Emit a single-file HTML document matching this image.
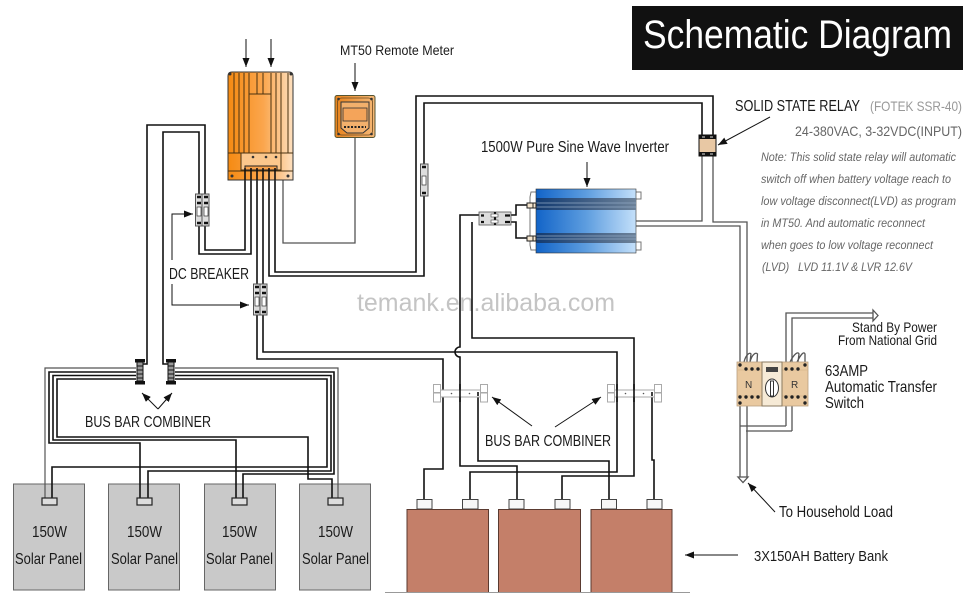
<!DOCTYPE html>
<html><head><meta charset="utf-8"><title>Schematic Diagram</title>
<style>
html,body{margin:0;padding:0;background:#fff}
svg{display:block}
text{font-family:"Liberation Sans Narrow","Liberation Sans",sans-serif;fill:#1a1a1a}
.w{fill:none;stroke:#111;stroke-width:1.6}
.g{fill:none;stroke:#555;stroke-width:1.3}
.t{font-size:16px}
.n{font-size:12px;font-style:italic;fill:#666}
</style></head><body>
<svg width="970" height="600" viewBox="0 0 970 600" xmlns="http://www.w3.org/2000/svg">
<defs>
<linearGradient id="org" x1="0" x2="1"><stop offset="0" stop-color="#f58a12"/><stop offset=".55" stop-color="#fba64e"/><stop offset="1" stop-color="#fde0bf"/></linearGradient>
<linearGradient id="met" x1="0" x2="1"><stop offset="0" stop-color="#e8831c"/><stop offset="1" stop-color="#f5b877"/></linearGradient>
<linearGradient id="blu" x1="0" x2="1"><stop offset="0" stop-color="#1264c8"/><stop offset=".5" stop-color="#5d9ddf"/><stop offset="1" stop-color="#c4e0fa"/></linearGradient>
<linearGradient id="blk" x1="0" x2="1"><stop offset="0" stop-color="#123a70"/><stop offset="1" stop-color="#6d8299"/></linearGradient>
<marker id="ah" markerWidth="10" markerHeight="7" refX="9" refY="3.500" orient="auto" markerUnits="userSpaceOnUse"><path d="M0 0L9 3.500L0 7z" fill="#111"/></marker>
</defs>

<!-- title -->
<rect x="632" y="6" width="331" height="64" fill="#111"/>
<text x="643" y="48" font-size="40" style="fill:#fff" textLength="309" lengthAdjust="spacingAndGlyphs">Schematic Diagram</text>

<!-- watermark -->
<text x="357" y="311" font-size="25" style="font-family:'Liberation Sans',sans-serif;fill:#c4c4c4" textLength="258" lengthAdjust="spacingAndGlyphs">temank.en.alibaba.com</text>

<!-- solar panels -->
<g fill="#c9c9c9" stroke="#666" stroke-width="1">
<rect x="13.5" y="484" width="71" height="106"/>
<rect x="108.5" y="484" width="71" height="106"/>
<rect x="204.5" y="484" width="71" height="106"/>
<rect x="299.5" y="484" width="71" height="106"/>
</g>

<!-- solar wiring -->
<g class="w">
<path class="g" style="stroke-width:1.2" d="M136 368H45V498"/>
<path d="M136 372H49V443H140V498"/>
<path d="M136 375.500H53V440H236V498"/>
<path d="M136 379H57V437H308V479H332V498"/>
<path class="g" style="stroke-width:1.2" d="M175 368H338V498"/>
<path d="M175 372H334V474H243V498"/>
<path d="M175 375.500H331V471H148V498"/>
<path d="M175 379H327V467H52V498"/>
</g>
<g fill="#ddd" stroke="#222" stroke-width="1.2">
<rect x="42" y="498" width="15" height="7"/><rect x="137" y="498" width="15" height="7"/>
<rect x="232" y="498" width="15" height="7"/><rect x="328" y="498" width="15" height="7"/>
</g>

<!-- upper wires -->
<path class="w" d="M245 178V250H205V125H147V364H140"/>
<path class="w" d="M251 178V254H199V132H163V364H170"/>
<path class="w" d="M257 178V359H443V469H424V500"/>
<path class="w" d="M263 178V352H617V472H470V500"/>
<path class="w" d="M275 178V272H416V96H713V135"/>
<path class="w" d="M269 178V276H424V103H702V135"/>
<path class="g" d="M283 178V243H355V135"/>
<path class="w" d="M472 222V338H634V476H562V500"/>
<path class="w" d="M479 215H460V347A5 5 0 0 0 460 357V466H517V500"/>
<path class="w" d="M478 395V461H609V500"/>
<path class="w" d="M652 395V460H654V500"/>
<path class="w" d="M479 215H511M479 222H511"/>
<path class="w" d="M511 215H516V205H527M511 222H516V238H527"/>

<!-- AC gray wiring -->
<g class="g">
<path d="M702 156V221H636"/>
<path d="M713 156V222H747V477"/>
<path d="M636 226H740V477"/>
<path d="M786 426V313H873"/>
<path d="M792 431V318H873"/>
<path d="M740 426H786"/>
<path d="M746 431H792"/>
<path d="M738 477H748L743 482.500Z" fill="#fff"/>
<path d="M873 310L878 315.500L873 321Z" fill="#fff"/>
<path d="M744 362C746 354 750 352 751 354L750 362M750 362C752 354 756 352 757.500 354L757 362"/>
<path d="M790 362C794 354 798 351 799 354L798 362M797 362C801 354 804 351 805 354L805 362"/>
</g>

<!-- batteries -->
<g fill="#f7f7f7" stroke="#444" stroke-width="1">
<rect x="417" y="499.500" width="15" height="9.500"/><rect x="462.500" y="499.500" width="15.500" height="9.500"/>
<rect x="509" y="499.500" width="15" height="9.500"/><rect x="555" y="499.500" width="15" height="9.500"/>
<rect x="601.500" y="499.500" width="15" height="9.500"/><rect x="647" y="499.500" width="15" height="9.500"/>
</g>
<g fill="#c47f69" stroke="#5a3a30" stroke-width="1">
<rect x="407" y="509.500" width="81.500" height="83"/>
<rect x="498.500" y="509.500" width="82" height="83"/>
<rect x="591" y="509.500" width="81" height="83"/>
</g>
<path d="M385 592.500H690" stroke="#999" stroke-width="1"/>

<!-- bus bars (faded) -->
<g fill="#fff" stroke="#aaa" stroke-width="1">
<rect x="439" y="390" width="44" height="7"/>
<rect x="433.500" y="384.500" width="7" height="8"/><rect x="433.500" y="393" width="7" height="9"/>
<rect x="480.500" y="384.500" width="7" height="8"/><rect x="480.500" y="393" width="7" height="9"/>
<rect x="613" y="390" width="44" height="7"/>
<rect x="607.500" y="384.500" width="7" height="8"/><rect x="607.500" y="393" width="7" height="9"/>
<rect x="654.500" y="384.500" width="7" height="8"/><rect x="654.500" y="393" width="7" height="9"/>
</g>
<g fill="#555"><circle cx="451.500" cy="393.500" r=".8"/><circle cx="469.500" cy="393.500" r=".8"/><circle cx="625.500" cy="393.500" r=".8"/><circle cx="643.500" cy="393.500" r=".8"/></g>
<path class="w" d="M460 384V402M617 384V402M634 384V402"/>
<path class="w" d="M478 392V396M652 392V396"/>

<!-- solar bus screws -->
<g>
<rect x="135" y="359" width="10" height="3.500" fill="#111"/><rect x="135" y="381" width="10" height="3.500" fill="#111"/>
<rect x="137" y="362" width="6" height="19" fill="#999" stroke="#111"/>
<path d="M137 366H143M137 370H143M137 374H143M137 378H143" stroke="#111"/>
<rect x="166" y="359" width="10" height="3.500" fill="#111"/><rect x="166" y="381" width="10" height="3.500" fill="#111"/>
<rect x="168" y="362" width="6" height="19" fill="#999" stroke="#111"/>
<path d="M168 366H174M168 370H174M168 374H174M168 378H174" stroke="#111"/>
</g>

<!-- MPPT controller -->
<path d="M228 76Q228 72 232 72H289Q293 72 293 76V180H228Z" fill="url(#org)" stroke="#333" stroke-width="1"/>
<g stroke="#4a3210" stroke-width="1" fill="none">
<path d="M234 73V153M239 73V153M244 73V153M249 73V153M257 73V94M263 73V94M271 73V153M276 73V153M281 73V153M288 73V153"/>
<path d="M249 94H271"/>
<path d="M228 153H241M281 153H293"/>
<path d="M228 171H293"/>
</g>
<rect x="241" y="153" width="40" height="17" fill="#fbc78c" stroke="#4a3210" stroke-width="1"/>
<rect x="245" y="166" width="32" height="4" fill="#f9a24a" stroke="#222"/>
<g fill="#333"><circle cx="253" cy="157" r="1.300"/><circle cx="266" cy="157" r="1.300"/><circle cx="276" cy="157" r="1.300"/><circle cx="232" cy="176" r="1.500"/><circle cx="288" cy="176" r="1.500"/><circle cx="230" cy="74" r="1.500"/><circle cx="291" cy="74" r="1.500"/></g>
<path class="w" d="M245 168V180M251 168V180M257 168V180M263 168V180M269 168V180M275 168V180"/>

<!-- remote meter -->
<rect x="335" y="95.500" width="40" height="42" rx="2" fill="url(#met)" stroke="#553" stroke-width="1"/>
<rect x="337.500" y="98" width="35" height="37" rx="4" fill="none" stroke="#6a4a20" stroke-width=".8"/>
<path d="M341 102H369V128L363 133H347L341 128Z" fill="#f2b06c" stroke="#333" stroke-width="1"/>
<rect x="343" y="108" width="24" height="13" fill="#f4a45a" stroke="#333" stroke-width=".8"/>
<path d="M344 127H366" stroke="#222" stroke-width="2" stroke-dasharray="2 1.500"/>
<g fill="#333"><circle cx="338.500" cy="99" r="1.300"/><circle cx="371.500" cy="99" r="1.300"/><circle cx="338.500" cy="134" r="1.300"/><circle cx="371.500" cy="134" r="1.300"/></g>

<!-- inverter -->
<g fill="#fff" stroke="#777" stroke-width="1">
<path d="M536 192H531L530 197V245L531 250H536"/>
<path d="M636 192H641V199H636M636 242H641V250H636"/>
</g>
<rect x="536" y="189" width="100" height="64" fill="url(#blu)" stroke="#333" stroke-width=".6"/>
<rect x="536" y="198" width="100" height="12" fill="url(#blk)"/>
<rect x="536" y="233" width="100" height="10" fill="url(#blk)"/>
<path d="M536 203H636M536 207H636M536 236H636M536 239H636" stroke="#8fa6c2" stroke-width=".7"/>
<g fill="#f6e6cf" stroke="#222" stroke-width="1"><rect x="527" y="203" width="6" height="5"/><rect x="527" y="236" width="6" height="5"/><rect x="533" y="203" width="3" height="5"/><rect x="533" y="236" width="3" height="5"/></g>
<path d="M636 221H641M636 226H641" stroke="#555"/>

<!-- inverter breaker -->
<rect x="479" y="212" width="32" height="13" fill="#ddd" stroke="#555" stroke-width=".8"/>
<path d="M481 215.500H484M481 222H484M505 215.500H510M505 222H510M495 212V225" stroke="#111" stroke-width="2.200"/>
<rect x="491" y="214" width="7" height="3" fill="#fff" stroke="#444" stroke-width=".6"/><rect x="491" y="220" width="7" height="3" fill="#fff" stroke="#444" stroke-width=".6"/>

<!-- small breakers -->
<g>
<rect x="195.500" y="194" width="13.500" height="32" fill="#ddd" stroke="#555"/>
<path d="M202 194V226" stroke="#555"/>
<path d="M197 197H201M204 197H208M197 203H201M204 203H208M197 223H201M204 223H208" stroke="#111" stroke-width="2.500"/>
<rect x="197" y="207" width="4" height="9" fill="#fff" stroke="#333" stroke-width=".7"/><rect x="204" y="207" width="4" height="9" fill="#fff" stroke="#333" stroke-width=".7"/>

<rect x="253.500" y="284" width="13.500" height="31" fill="#ddd" stroke="#555"/>
<path d="M260 284V315" stroke="#555"/>
<path d="M255 287H259M262 287H266M255 293H259M262 293H266M255 312H259M262 312H266" stroke="#111" stroke-width="2.500"/>
<rect x="255" y="297" width="4" height="9" fill="#fff" stroke="#333" stroke-width=".7"/><rect x="262" y="297" width="4" height="9" fill="#fff" stroke="#333" stroke-width=".7"/>

<rect x="420.500" y="164" width="7.500" height="32" fill="#ddd" stroke="#555"/>
<path d="M422 167H426M422 193H426" stroke="#111" stroke-width="2.500"/>
<rect x="422" y="176" width="4" height="9" fill="#fff" stroke="#333" stroke-width=".7"/>
</g>

<!-- solid state relay -->
<rect x="699" y="135" width="17" height="21" fill="#e8c8a4" stroke="#111"/>
<rect x="699" y="135" width="17" height="4" fill="#111"/>
<rect x="699" y="152" width="17" height="4" fill="#111"/>
<path d="M702 137H705M710 137H713M702 154H705M710 154H713" stroke="#ddd" stroke-width="1"/>

<!-- ATS -->
<rect x="737" y="362" width="71" height="44" fill="#e9c9a0" stroke="#b9a080" stroke-width=".8"/>
<path d="M737 370H808M737 396H808" stroke="#d8b88c" stroke-width=".8"/>
<rect x="762" y="362" width="20" height="44" fill="#f6ead6" stroke="#8a7a60" stroke-width="1"/>
<rect x="766" y="367" width="12" height="5" fill="#444"/>
<ellipse cx="772" cy="388" rx="6.500" ry="9" fill="#fff" stroke="#333" stroke-width="1"/>
<rect x="770.500" y="381" width="3" height="15" fill="#fff" stroke="#333" stroke-width="1"/>
<g fill="#222">
<circle cx="740" cy="365" r="1.700"/><circle cx="746" cy="369" r="1.700"/><circle cx="752" cy="369" r="1.700"/><circle cx="758" cy="369" r="1.700"/>
<circle cx="786" cy="369" r="1.700"/><circle cx="792" cy="369" r="1.700"/><circle cx="798" cy="369" r="1.700"/><circle cx="805" cy="365" r="1.700"/>
<circle cx="740" cy="397" r="1.700"/><circle cx="746" cy="397" r="1.700"/><circle cx="752" cy="397" r="1.700"/><circle cx="758" cy="397" r="1.700"/>
<circle cx="786" cy="397" r="1.700"/><circle cx="792" cy="397" r="1.700"/><circle cx="798" cy="397" r="1.700"/><circle cx="805" cy="397" r="1.700"/>
<circle cx="740" cy="403" r="1.700"/><circle cx="805" cy="403" r="1.700"/>
</g>
<text x="745" y="388" style="font-family:'Liberation Sans',sans-serif;font-size:10px;fill:#333">N</text>
<text x="791" y="388" style="font-family:'Liberation Sans',sans-serif;font-size:10px;fill:#333">R</text>

<!-- annotation arrows -->
<g fill="none" stroke="#111" stroke-width="1" marker-end="url(#ah)">
<path d="M246 39V67"/><path d="M271 39V67"/><path d="M355 63V91"/>
<path d="M172 260V214H193"/><path d="M172 284V305H249"/>
<path d="M587 162V187"/>
<path d="M770 117L718 145"/>
<path d="M158 409L142 393"/><path d="M158 409L172 393"/>
<path d="M532 426L492 397"/><path d="M555 427L601 397"/>
<path d="M738 555H685"/>
<path d="M775 512L748 483"/>
</g>

<!-- labels -->
<text class="t" x="340" y="55" style="font-size:14px" textLength="114" lengthAdjust="spacingAndGlyphs">MT50 Remote Meter</text>
<text class="t" x="481" y="152" textLength="188" lengthAdjust="spacingAndGlyphs">1500W Pure Sine Wave Inverter</text>
<text class="t" x="735" y="111" textLength="125" lengthAdjust="spacingAndGlyphs">SOLID STATE RELAY</text>
<text class="t" x="870" y="111" style="font-size:14px;fill:#999" textLength="92" lengthAdjust="spacingAndGlyphs">(FOTEK SSR-40)</text>
<text class="t" x="795" y="136" style="font-size:14px;fill:#666" textLength="167" lengthAdjust="spacingAndGlyphs">24-380VAC, 3-32VDC(INPUT)</text>
<text class="n" x="761" y="161" textLength="195" lengthAdjust="spacingAndGlyphs">Note: This solid state relay will automatic</text>
<text class="n" x="761" y="183" textLength="190" lengthAdjust="spacingAndGlyphs">switch off when battery voltage reach to</text>
<text class="n" x="761" y="205" textLength="195" lengthAdjust="spacingAndGlyphs">low voltage disconnect(LVD) as program</text>
<text class="n" x="761" y="227" textLength="164" lengthAdjust="spacingAndGlyphs">in MT50. And automatic reconnect</text>
<text class="n" x="761" y="249" textLength="172" lengthAdjust="spacingAndGlyphs">when goes to low voltage reconnect</text>
<text class="n" x="762" y="271" textLength="150" lengthAdjust="spacingAndGlyphs" xml:space="preserve">(LVD)   LVD 11.1V &amp; LVR 12.6V</text>
<text class="t" x="169" y="279" textLength="80" lengthAdjust="spacingAndGlyphs">DC BREAKER</text>
<text class="t" x="85" y="427" textLength="126" lengthAdjust="spacingAndGlyphs">BUS BAR COMBINER</text>
<text class="t" x="485" y="446" textLength="126" lengthAdjust="spacingAndGlyphs">BUS BAR COMBINER</text>
<text class="t" x="754" y="561" style="font-size:15px" textLength="134" lengthAdjust="spacingAndGlyphs">3X150AH Battery Bank</text>
<text class="t" x="852" y="332" style="font-size:14px" textLength="85" lengthAdjust="spacingAndGlyphs">Stand By Power</text>
<text class="t" x="838" y="345" style="font-size:14px" textLength="99" lengthAdjust="spacingAndGlyphs">From National Grid</text>
<text class="t" x="825" y="376" textLength="43" lengthAdjust="spacingAndGlyphs">63AMP</text>
<text class="t" x="825" y="392" textLength="112" lengthAdjust="spacingAndGlyphs">Automatic Transfer</text>
<text class="t" x="825" y="408" textLength="39" lengthAdjust="spacingAndGlyphs">Switch</text>
<text class="t" x="779" y="517" textLength="114" lengthAdjust="spacingAndGlyphs">To Household Load</text>

<text class="t" x="32" y="537" textLength="35" lengthAdjust="spacingAndGlyphs">150W</text>
<text class="t" x="127" y="537" textLength="35" lengthAdjust="spacingAndGlyphs">150W</text>
<text class="t" x="222" y="537" textLength="35" lengthAdjust="spacingAndGlyphs">150W</text>
<text class="t" x="318" y="537" textLength="35" lengthAdjust="spacingAndGlyphs">150W</text>
<text class="t" x="15" y="564" textLength="67" lengthAdjust="spacingAndGlyphs">Solar Panel</text>
<text class="t" x="111" y="564" textLength="67" lengthAdjust="spacingAndGlyphs">Solar Panel</text>
<text class="t" x="206" y="564" textLength="67" lengthAdjust="spacingAndGlyphs">Solar Panel</text>
<text class="t" x="302" y="564" textLength="67" lengthAdjust="spacingAndGlyphs">Solar Panel</text>
</svg>
</body></html>
